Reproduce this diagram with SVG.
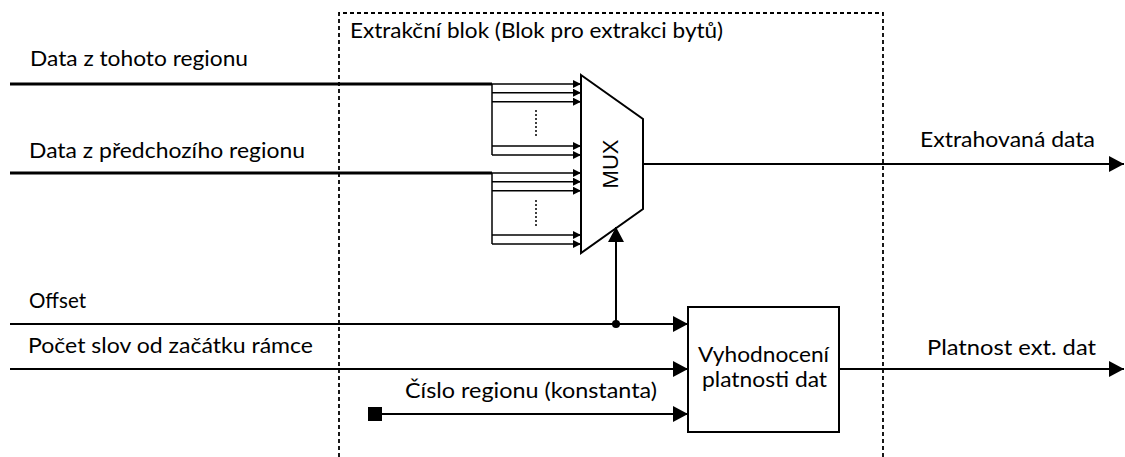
<svg xmlns="http://www.w3.org/2000/svg" width="1125" height="457" viewBox="0 0 1125 457">
<style>
text{font-family:Lato,"Open Sans","Liberation Sans",sans-serif;font-size:22px;fill:#000}
.mux{font-family:"Liberation Sans",Arial,sans-serif;font-size:22px}
.ln{stroke:#000;stroke-width:2;fill:none}
.thick{stroke:#000;stroke-width:3;fill:none}
.bus{stroke:#000;stroke-width:1.5;fill:none}
.dots{stroke:#000;stroke-width:1.5;stroke-dasharray:2 2;fill:none}
.frame{stroke:#000;stroke-width:1.8;stroke-dasharray:4 3;fill:none}
</style>
<defs>
<marker id="big" markerUnits="userSpaceOnUse" markerWidth="16" markerHeight="16" refX="15" refY="8" orient="auto">
<path d="M0,0 L15,8 L0,16 z" fill="#000"/>
</marker>
<marker id="small" markerUnits="userSpaceOnUse" markerWidth="9" markerHeight="8" refX="8" refY="4" orient="auto">
<path d="M0,0 L8,4 L0,8 z" fill="#000"/>
</marker>
</defs>
<rect width="1125" height="457" fill="#fff"/>
<g id="extraction-block">
<path class="frame" d="M339,457 V13 H883 V457"/>
<text x="350" y="38" textLength="373" lengthAdjust="spacingAndGlyphs">Extrakční blok (Blok pro extrakci bytů)</text>
</g>
<g id="mux">
<polygon points="581,75 643,119 643,209 581,253" fill="#fff" stroke="#000" stroke-width="2"/>
<text class="mux" transform="translate(618,164) rotate(-90)" text-anchor="middle">MUX</text>
</g>
<g id="validity">
<rect x="688" y="307" width="151" height="125" fill="#fff" stroke="#000" stroke-width="2"/>
<text x="698" y="362" textLength="131" lengthAdjust="spacingAndGlyphs">Vyhodnocení</text>
<text x="702" y="387" textLength="125" lengthAdjust="spacingAndGlyphs">platnosti dat</text>
</g>
<g id="region-const">
<rect x="368" y="407" width="14" height="14" fill="#000"/>
</g>
<g id="connectors">
<line class="thick" x1="10" y1="84" x2="492" y2="84"/>
<path class="bus" d="M492,84 V155"/>
<line class="bus" x1="492" y1="84" x2="581" y2="84" marker-end="url(#small)"/>
<line class="bus" x1="492" y1="92.7" x2="581" y2="92.7" marker-end="url(#small)"/>
<line class="bus" x1="492" y1="101.7" x2="581" y2="101.7" marker-end="url(#small)"/>
<line class="bus" x1="492" y1="146" x2="581" y2="146" marker-end="url(#small)"/>
<line class="bus" x1="492" y1="155" x2="581" y2="155" marker-end="url(#small)"/>
<line class="dots" x1="536" y1="110" x2="536" y2="137"/>
<line class="thick" x1="10" y1="173" x2="492" y2="173"/>
<path class="bus" d="M492,173 V244"/>
<line class="bus" x1="492" y1="173" x2="581" y2="173" marker-end="url(#small)"/>
<line class="bus" x1="492" y1="181.7" x2="581" y2="181.7" marker-end="url(#small)"/>
<line class="bus" x1="492" y1="190.7" x2="581" y2="190.7" marker-end="url(#small)"/>
<line class="bus" x1="492" y1="235" x2="581" y2="235" marker-end="url(#small)"/>
<line class="bus" x1="492" y1="244" x2="581" y2="244" marker-end="url(#small)"/>
<line class="dots" x1="536" y1="200" x2="536" y2="227"/>
<line class="ln" x1="643" y1="164" x2="1124" y2="164" marker-end="url(#big)"/>
<line class="ln" x1="10" y1="324" x2="688" y2="324" marker-end="url(#big)"/>
<circle cx="616" cy="324" r="4" fill="#000"/>
<line class="ln" x1="616" y1="324" x2="616" y2="227" marker-end="url(#big)"/>
<line class="ln" x1="10" y1="369" x2="688" y2="369" marker-end="url(#big)"/>
<line class="ln" x1="382" y1="414" x2="688" y2="414" marker-end="url(#big)"/>
<line class="ln" x1="839" y1="369" x2="1124" y2="369" marker-end="url(#big)"/>
</g>
<g id="labels">
<text x="30" y="66" textLength="218" lengthAdjust="spacingAndGlyphs">Data z tohoto regionu</text>
<text x="29" y="158" textLength="276" lengthAdjust="spacingAndGlyphs">Data z předchozího regionu</text>
<text x="920" y="147" textLength="175" lengthAdjust="spacingAndGlyphs">Extrahovaná data</text>
<text x="29" y="308" textLength="57" lengthAdjust="spacingAndGlyphs">Offset</text>
<text x="28" y="353" textLength="285" lengthAdjust="spacingAndGlyphs">Počet slov od začátku rámce</text>
<text x="405" y="398" textLength="252" lengthAdjust="spacingAndGlyphs">Číslo regionu (konstanta)</text>
<text x="927" y="355" textLength="169" lengthAdjust="spacingAndGlyphs">Platnost ext. dat</text>
</g>
</svg>
